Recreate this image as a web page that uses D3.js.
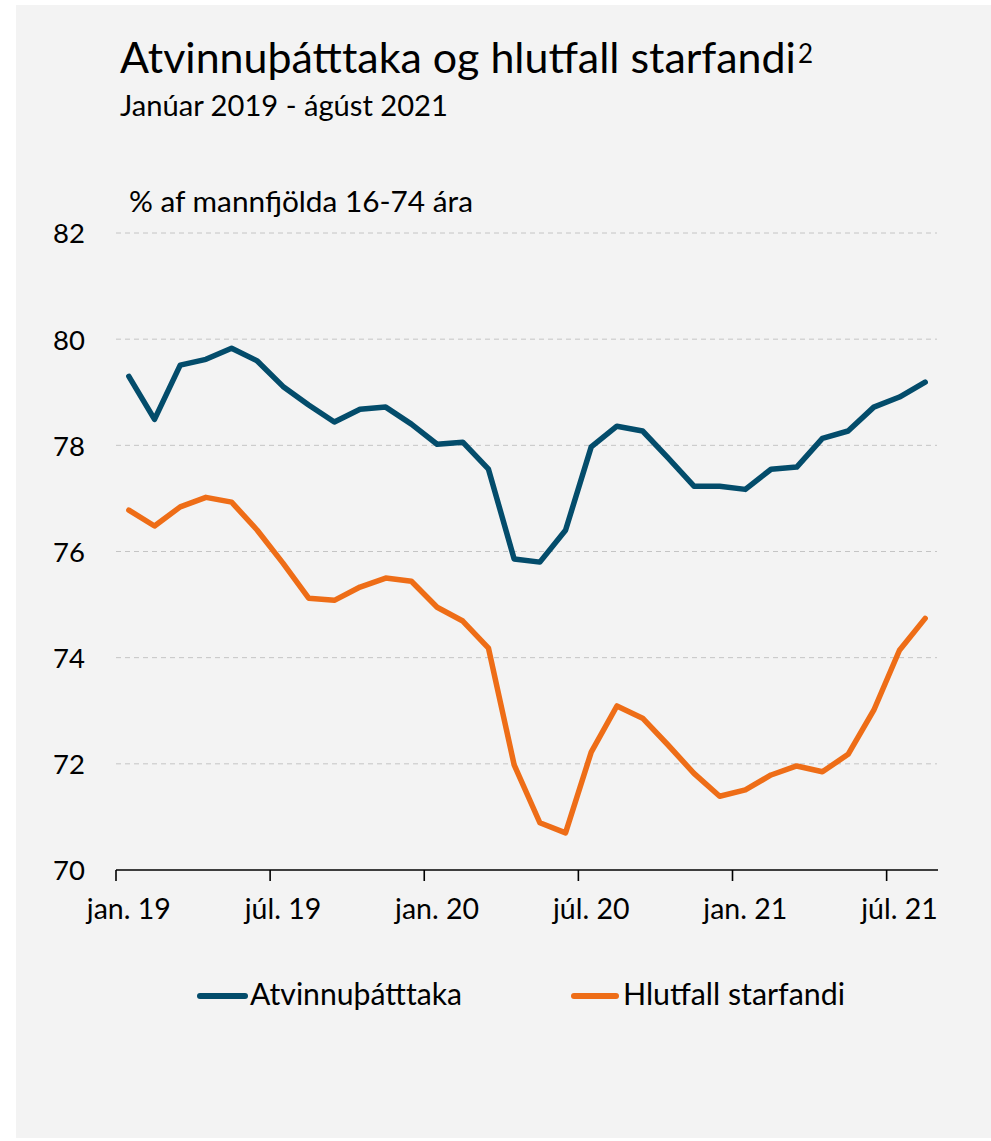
<!DOCTYPE html>
<html>
<head>
<meta charset="utf-8">
<script src="https://cdn.jsdelivr.net/npm/d3@7/dist/d3.min.js"></script>
<style>
  html, body { margin: 0; padding: 0; background: #ffffff; }
  svg { display: block; }
  text { font-family: Lato, "Open Sans", sans-serif; fill: #000; }
</style>
</head>
<body>
<svg id="chart" width="991" height="1141"></svg>
<script>
// ---- DATA ----
const months = [
  "2019-01","2019-02","2019-03","2019-04","2019-05","2019-06","2019-07","2019-08","2019-09","2019-10","2019-11","2019-12",
  "2020-01","2020-02","2020-03","2020-04","2020-05","2020-06","2020-07","2020-08","2020-09","2020-10","2020-11","2020-12",
  "2021-01","2021-02","2021-03","2021-04","2021-05","2021-06","2021-07","2021-08"
];
const atvinnuthatttaka = [
  79.30, 78.49, 79.51, 79.62, 79.83, 79.59, 79.11, 78.76, 78.44, 78.68, 78.72, 78.40,
  78.02, 78.06, 77.55, 75.86, 75.80, 76.40, 77.97, 78.36, 78.27, 77.76, 77.23, 77.23,
  77.17, 77.55, 77.59, 78.13, 78.27, 78.72, 78.91, 79.19
];
const hlutfallStarfandi = [
  76.78, 76.48, 76.84, 77.02, 76.93, 76.40, 75.78, 75.12, 75.08, 75.33, 75.50, 75.44,
  74.95, 74.69, 74.18, 71.98, 70.89, 70.70, 72.22, 73.09, 72.86, 72.35, 71.82, 71.39,
  71.51, 71.79, 71.96, 71.85, 72.18, 73.01, 74.14, 74.74
];
const seriesNames = ["Atvinnuþátttaka", "Hlutfall starfandi"];
const seriesColors = ["#034c6b", "#ee6d17"];
const xTickMonths = ["2019-01","2019-07","2020-01","2020-07","2021-01","2021-07"];
const xTickLabels = ["jan. 19","júl. 19","jan. 20","júl. 20","jan. 21","júl. 21"];
const yTicks = [70, 72, 74, 76, 78, 80, 82];
const titleText = "Atvinnuþátttaka og hlutfall starfandi";
const titleSup = "2";
const subtitleText = "Janúar 2019 - ágúst 2021";
const unitText = "% af mannfjölda 16-74 ára";

// ---- CHART ----
const svg = d3.select("#chart");
svg.append("rect").attr("x", 16).attr("y", 5).attr("width", 975).attr("height", 1133).attr("fill", "#f3f3f3");

function fit(sel, target) {
  const w = sel.node().getComputedTextLength();
  const fs = parseFloat(sel.attr("font-size"));
  sel.attr("font-size", (fs * target / w).toFixed(2));
}

const title = svg.append("text").attr("x", 120).attr("y", 73).attr("font-size", 40).text(titleText);
fit(title, 676);
const titleEnd = 120 + title.node().getComputedTextLength();
svg.append("text").attr("x", titleEnd + 2).attr("y", 63).attr("font-size", 26).text(titleSup);

const sub = svg.append("text").attr("x", 120).attr("y", 116).attr("font-size", 26).text(subtitleText);
fit(sub, 328);

const unit = svg.append("text").attr("x", 129).attr("y", 212).attr("font-size", 26).text(unitText);
fit(unit, 344);

const x = d3.scaleBand().domain(months).range([116, 938]).paddingInner(0).paddingOuter(0);
const bw = x.bandwidth();
const y = d3.scaleLinear().domain([70, 82]).range([870, 233]);

// grid
svg.append("g").selectAll("line").data(yTicks.filter(d => d > 70)).join("line")
  .attr("x1", 116).attr("x2", 937)
  .attr("y1", d => y(d)).attr("y2", d => y(d))
  .attr("stroke", "#c4c4c4").attr("stroke-width", 1).attr("stroke-dasharray", "5,4");

// y axis labels
const yAxis = d3.axisLeft(y).tickValues(yTicks).tickSize(0).tickPadding(31).tickFormat(d3.format("d"));
const yg = svg.append("g").attr("transform", "translate(116,0)").call(yAxis);
yg.select(".domain").remove();
yg.selectAll("text").attr("font-size", 27.5).attr("font-family", "Lato, 'Open Sans', sans-serif").attr("fill", "#000").attr("dy", "0.36em");

// x axis
const labelMap = new Map(xTickMonths.map((m, i) => [m, xTickLabels[i]]));
const xAxis = d3.axisBottom(x).tickValues(xTickMonths).tickSizeInner(11).tickSizeOuter(0).tickPadding(18)
  .tickFormat(m => labelMap.get(m));
const xg = svg.append("g").attr("transform", "translate(0,870)").call(xAxis);
xg.select(".domain").attr("stroke", "#000").attr("stroke-width", 1.6).attr("d", `M116,0H938`);
xg.selectAll(".tick line").attr("stroke", "#000").attr("stroke-width", 1.6).attr("transform", `translate(${-bw/2},0)`);
xg.selectAll(".tick text").attr("font-size", 28.5).attr("font-family", "Lato, 'Open Sans', sans-serif").attr("fill", "#000").attr("dy", "0.71em");

// lines
const line = d3.line().x((d, i) => x(months[i]) + bw / 2).y(d => y(d));
[atvinnuthatttaka, hlutfallStarfandi].forEach((s, i) => {
  svg.append("path").datum(s).attr("d", line).attr("fill", "none")
    .attr("stroke", seriesColors[i]).attr("stroke-width", 5.5)
    .attr("stroke-linejoin", "round").attr("stroke-linecap", "round");
});

// legend
const legendPos = [{x1: 200, x2: 245, tx: 250, tw: 212}, {x1: 574, x2: 616, tx: 623, tw: 222}];
seriesNames.forEach((n, i) => {
  const p = legendPos[i];
  svg.append("line").attr("x1", p.x1).attr("x2", p.x2).attr("y1", 996).attr("y2", 996)
    .attr("stroke", seriesColors[i]).attr("stroke-width", 6).attr("stroke-linecap", "round");
  const t = svg.append("text").attr("x", p.tx).attr("y", 1005).attr("font-size", 26).text(n);
  fit(t, p.tw);
});
</script>
</body>
</html>
